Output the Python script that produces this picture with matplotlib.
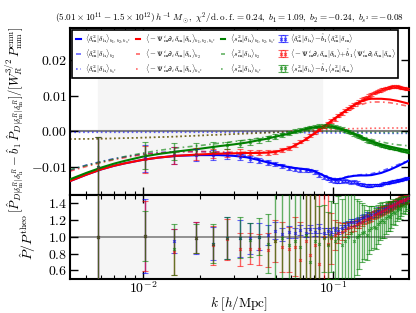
import numpy as np
import matplotlib
matplotlib.use("Agg")
import matplotlib.pyplot as plt
from matplotlib.ticker import FuncFormatter, FixedLocator

plt.rcParams["font.family"] = "serif"
plt.rcParams["font.serif"] = ["cmr10"]
plt.rcParams["mathtext.fontset"] = "cm"
plt.rcParams["axes.formatter.use_mathtext"] = True

# measured k bins [h/Mpc]
k = [0.0058, 0.0102, 0.0146, 0.0190, 0.0234, 0.0278, 0.0322, 0.0366, 0.0410, 0.0454,
     0.0498, 0.0542, 0.0586, 0.0630, 0.0674, 0.0718, 0.0762, 0.0806, 0.0850, 0.0894,
     0.0938, 0.0982, 0.1026, 0.1070, 0.1114, 0.1158, 0.1202, 0.1246, 0.1290, 0.1334,
     0.1378, 0.1422, 0.1466, 0.1510, 0.1554, 0.1598, 0.1642, 0.1686, 0.1730, 0.1774,
     0.1818, 0.1862, 0.1906, 0.1950, 0.1994, 0.2038, 0.2082, 0.2126, 0.2170, 0.2214,
     0.2258, 0.2302, 0.2346, 0.2390, 0.2434, 0.2478]

# top panel measurements
d2_meas = [-0.0101, -0.0076, -0.0067, -0.0066, -0.0067, -0.0068, -0.0072, -0.0077, -0.0083, -0.0088,
           -0.0092, -0.0097, -0.0104, -0.0107, -0.0108, -0.0109, -0.0110, -0.0114, -0.0122, -0.0128,
           -0.0133, -0.0137, -0.0141, -0.0142, -0.0140, -0.0139, -0.0141, -0.0143, -0.0142, -0.0145,
           -0.0148, -0.0150, -0.0151, -0.0153, -0.0152, -0.0153, -0.0151, -0.0150, -0.0152, -0.0150,
           -0.0147, -0.0146, -0.0145, -0.0146, -0.0143, -0.0142, -0.0141, -0.0140, -0.0139, -0.0138,
           -0.0136, -0.0136, -0.0134, -0.0133, -0.0132, -0.0131]
shift_meas = [-0.0102, -0.0079, -0.0068, -0.0064, -0.0062, -0.0062, -0.0060, -0.0060, -0.0060, -0.0060,
              -0.0059, -0.0053, -0.0047, -0.0038, -0.0029, -0.0021, -0.0012, -0.0004, 0.0005, 0.0013,
              0.0020, 0.0028, 0.0035, 0.0043, 0.0050, 0.0057, 0.0063, 0.0069, 0.0074, 0.0079,
              0.0083, 0.0088, 0.0092, 0.0096, 0.0099, 0.0103, 0.0106, 0.0109, 0.0112, 0.0114,
              0.0117, 0.0119, 0.0121, 0.0122, 0.0124, 0.0125, 0.0126, 0.0125, 0.0126, 0.0124,
              0.0123, 0.0122, 0.0121, 0.0120, 0.0119, 0.0118]
s2_meas = [-0.0100, -0.0068, -0.0057, -0.0050, -0.0044, -0.0040, -0.0035, -0.0030, -0.0025, -0.0020,
           -0.0015, -0.0010, -0.0005, 0.0000, 0.0004, 0.0008, 0.0011, 0.0013, 0.0014, 0.0015,
           0.0016, 0.0015, 0.0013, 0.0010, 0.0007, 0.0003, -0.0001, -0.0005, -0.0009, -0.0012,
           -0.0016, -0.0019, -0.0022, -0.0025, -0.0028, -0.0030, -0.0033, -0.0035, -0.0037, -0.0039,
           -0.0041, -0.0042, -0.0044, -0.0045, -0.0046, -0.0047, -0.0048, -0.0049, -0.0050, -0.0051,
           -0.0052, -0.0053, -0.0054, -0.0055, -0.0056, -0.0057]
err_top = [0.0085, 0.0037, 0.0024, 0.0017, 0.0013, 0.0011, 0.0009, 0.0008, 0.0007, 0.0007,
           0.0006, 0.0006, 0.0006, 0.0005, 0.0005, 0.0005, 0.0005, 0.0005, 0.0005, 0.0005,
           0.0005, 0.0005, 0.0005, 0.0004, 0.0004, 0.0004, 0.0004, 0.0004, 0.0004, 0.0004,
           0.0004, 0.0004, 0.0004, 0.0004, 0.0004, 0.0004, 0.0003, 0.0003, 0.0003, 0.0003,
           0.0003, 0.0003, 0.0003, 0.0003, 0.0003, 0.0003, 0.0003, 0.0003, 0.0003, 0.0003,
           0.0003, 0.0003, 0.0003, 0.0003, 0.0003, 0.0003]

# theory curves
kt = [0.0041, 0.005, 0.006, 0.007, 0.008, 0.01, 0.012, 0.015, 0.02, 0.025, 0.03, 0.035,
      0.04, 0.045, 0.05, 0.06, 0.07, 0.08, 0.09, 0.1, 0.11, 0.12, 0.13, 0.14, 0.15, 0.16,
      0.18, 0.2, 0.22, 0.24, 0.252]
d2_all = [-0.0140, -0.0122, -0.0107, -0.0097, -0.0090, -0.0080, -0.0074, -0.0069, -0.0067, -0.0067,
          -0.0069, -0.0073, -0.0080, -0.0087, -0.0093, -0.0102, -0.0106, -0.0112, -0.0125, -0.0135,
          -0.0134, -0.0128, -0.0125, -0.0124, -0.0124, -0.0123, -0.0117, -0.0108, -0.0098, -0.0088, -0.0082]
shift_all = [-0.0140, -0.0122, -0.0107, -0.0097, -0.0090, -0.0080, -0.0074, -0.0069, -0.0065, -0.0063,
             -0.0062, -0.0061, -0.0061, -0.0060, -0.0058, -0.0046, -0.0027, -0.0006, 0.0014, 0.0032,
             0.0048, 0.0062, 0.0074, 0.0083, 0.0089, 0.0091, 0.0091, 0.0089, 0.0085, 0.0080, 0.0077]
s2_all = [-0.0135, -0.0117, -0.0102, -0.0091, -0.0083, -0.0071, -0.0064, -0.0057, -0.0049, -0.0042,
          -0.0037, -0.0032, -0.0026, -0.0021, -0.0015, -0.0006, 0.0005, 0.0011, 0.0014, 0.0013,
          0.0007, 0.0000, -0.0008, -0.0015, -0.0022, -0.0028, -0.0037, -0.0043, -0.0048, -0.0052, -0.0054]
d2_b2 = [-0.0110, -0.0095, -0.0085, -0.0077, -0.0072, -0.0064, -0.0060, -0.0057, -0.0057, -0.0059,
         -0.0063, -0.0068, -0.0076, -0.0084, -0.0091, -0.0101, -0.0106, -0.0112, -0.0124, -0.0133,
         -0.0132, -0.0127, -0.0124, -0.0122, -0.0121, -0.0119, -0.0112, -0.0103, -0.0094, -0.0086, -0.0082]
shift_b2 = [-0.0112, -0.0099, -0.0088, -0.0080, -0.0074, -0.0065, -0.0061, -0.0058, -0.0057, -0.0058,
            -0.0059, -0.0059, -0.0059, -0.0059, -0.0057, -0.0046, -0.0028, -0.0008, 0.0011, 0.0028,
            0.0043, 0.0056, 0.0066, 0.0074, 0.0079, 0.0082, 0.0082, 0.0080, 0.0076, 0.0072, 0.0070]
s2_b2 = [-0.0108, -0.0096, -0.0086, -0.0078, -0.0071, -0.0061, -0.0054, -0.0047, -0.0040, -0.0034,
         -0.0029, -0.0025, -0.0020, -0.0016, -0.0011, -0.0003, 0.0006, 0.0011, 0.0013, 0.0012,
         0.0007, 0.0001, -0.0006, -0.0012, -0.0018, -0.0023, -0.0030, -0.0035, -0.0038, -0.0040, -0.0041]
kt_s = [0.0041, 0.006, 0.01, 0.015, 0.02, 0.03, 0.05, 0.07, 0.1, 0.15, 0.2, 0.252]
d2_bs2 = [-0.0003, -0.0003, -0.0003, -0.0003, -0.0003, -0.0003, -0.0003, -0.0004, -0.0005, -0.0005, -0.0006, -0.0006]
shift_bs2 = [-0.0022, -0.0021, -0.0018, -0.0015, -0.0012, -0.0008, -0.0003, 0.0002, 0.0006, 0.0008, 0.0009, 0.0009]
s2_bs2 = [-0.0022, -0.0021, -0.0018, -0.0015, -0.0012, -0.0008, -0.0003, 0.0000, -0.0001, -0.0003, -0.0004, -0.0004]

# bottom panel: ratio to theory
d2_ratio = [1.00, 1.01, 0.95, 0.99, 0.92, 0.99, 0.98, 0.98, 1.00, 1.02,
            1.07, 1.03, 1.06, 1.04, 1.08, 1.05, 1.09, 1.06, 1.10, 1.05,
            1.07, 1.06, 1.08, 1.07, 1.10, 1.13, 1.15, 1.17, 1.17, 1.18,
            1.20, 1.22, 1.23, 1.25, 1.24, 1.26, 1.27, 1.28, 1.31, 1.30,
            1.31, 1.33, 1.34, 1.35, 1.36, 1.37, 1.38, 1.39, 1.40, 1.41,
            1.42, 1.43, 1.44, 1.44, 1.45, 1.46]
d2_rerr = [0.80, 0.44, 0.14, 0.19, 0.20, 0.25, 0.22, 0.18, 0.16, 0.12,
           0.10, 0.08, 0.07, 0.06, 0.06, 0.05, 0.05, 0.05, 0.05, 0.05,
           0.04, 0.04, 0.04, 0.04, 0.04, 0.04, 0.04, 0.04, 0.04, 0.04,
           0.04, 0.04, 0.04, 0.04, 0.04, 0.04, 0.04, 0.04, 0.04, 0.04,
           0.04, 0.04, 0.04, 0.04, 0.04, 0.04, 0.04, 0.04, 0.04, 0.04,
           0.04, 0.04, 0.04, 0.04, 0.04, 0.04]
shift_ratio = [1.00, 1.01, 0.82, 0.99, 0.90, 0.97, 0.85, 0.86, 0.85, 0.84,
               0.95, 0.88, 0.85, 0.88, 0.72, 0.95, 0.78, 0.90, 0.68, 1.00,
               0.92, 0.98, 1.02, 1.05, 1.06, 1.08, 1.10, 1.12, 1.13, 1.15,
               1.16, 1.18, 1.20, 1.21, 1.22, 1.24, 1.26, 1.27, 1.28, 1.30,
               1.31, 1.32, 1.33, 1.35, 1.36, 1.37, 1.38, 1.39, 1.40, 1.41,
               1.42, 1.43, 1.44, 1.44, 1.45, 1.46]
shift_rerr = [0.80, 0.42, 0.27, 0.18, 0.23, 0.24, 0.20, 0.18, 0.18, 0.20,
              0.25, 0.30, 0.27, 0.35, 0.45, 0.60, 0.80, 1.00, 1.20, 1.00,
              0.60, 0.30, 0.18, 0.12, 0.10, 0.08, 0.07, 0.06, 0.06, 0.05,
              0.05, 0.05, 0.05, 0.05, 0.05, 0.05, 0.05, 0.05, 0.05, 0.05,
              0.05, 0.05, 0.05, 0.05, 0.05, 0.05, 0.05, 0.05, 0.05, 0.05,
              0.05, 0.05, 0.05, 0.05, 0.05, 0.05]
s2_ratio = [1.00, 1.01, 0.85, 0.98, 0.92, 0.99, 0.99, 0.96, 1.00, 0.92,
            0.95, 0.98, 0.90, 0.95, 0.88, 1.02, 0.70, 0.95, 0.92, 0.98,
            0.90, 1.00, 0.95, 0.98, 0.90, 0.95, 1.00, 1.05, 0.95, 1.00,
            1.02, 1.05, 1.06, 1.02, 1.08, 1.10, 1.12, 1.10, 1.15, 1.18,
            1.20, 1.18, 1.22, 1.25, 1.24, 1.27, 1.30, 1.28, 1.32, 1.34,
            1.33, 1.36, 1.38, 1.37, 1.40, 1.42]
s2_rerr = [1.00, 0.30, 0.30, 0.17, 0.23, 0.25, 0.24, 0.20, 0.22, 0.35,
           0.70, 1.00, 1.20, 1.50, 2.00, 2.00, 1.00, 0.60, 0.45, 0.40,
           0.40, 0.42, 0.45, 0.50, 0.55, 0.60, 0.70, 0.80, 0.60, 0.45,
           0.40, 0.35, 0.32, 0.30, 0.28, 0.26, 0.25, 0.24, 0.23, 0.22,
           0.21, 0.20, 0.19, 0.18, 0.17, 0.16, 0.15, 0.14, 0.13, 0.12,
           0.12, 0.11, 0.10, 0.10, 0.09, 0.09]

kmin_fit, kmax_fit = 0.0058, 0.088

fig = plt.figure(figsize=(4.16, 3.13), dpi=100)
ax1 = fig.add_axes([0.168, 0.378, 0.815, 0.532])
ax2 = fig.add_axes([0.168, 0.109, 0.815, 0.269], sharex=ax1)

cols = ["b", "r", "g"]
dashdot = (0, (3, 2, 1, 2))

for ax in (ax1, ax2):
    ax.axvspan(kmin_fit, kmax_fit, color="0.96", zorder=0)
ax1.axhline(0, color="0.5", lw=1.5, zorder=1)
ax2.axhline(1, color="0.5", lw=1.2, zorder=1)

theory = [(d2_all, d2_b2, d2_bs2), (shift_all, shift_b2, shift_bs2), (s2_all, s2_b2, s2_bs2)]
handles = []
for c, (full, b2, bs2) in zip(cols, theory):
    l1, = ax1.plot(kt, full, color=c, lw=1.5, zorder=3)
    l2, = ax1.plot(kt, b2, color=c, lw=1.2, ls=dashdot, alpha=0.6, zorder=2)
    l3, = ax1.plot(kt_s, bs2, color=c, lw=1.2, ls=":", alpha=0.6, zorder=2)
    handles += [l1, l2, l3]

meas = [(d2_meas, d2_ratio, d2_rerr), (shift_meas, shift_ratio, shift_rerr), (s2_meas, s2_ratio, s2_rerr)]
eb_handles = []
for c, (y, r, re) in zip(cols, meas):
    eb = ax1.errorbar(k, y, yerr=err_top, fmt="x", color=c, ms=2, mew=0.8, lw=1,
                      capsize=2, alpha=0.6, zorder=4)
    ax2.errorbar(k, r, yerr=re, fmt="x", color=c, ms=2, mew=0.8, lw=1,
                 capsize=2, alpha=0.6, zorder=4)
    eb_handles.append(eb)

labels = [
    r"$\langle\delta_{\rm m}^2|\delta_{\rm h}\rangle_{b_1,b_2,b_{s^2}}$",
    r"$\langle\delta_{\rm m}^2|\delta_{\rm h}\rangle_{b_2}$",
    r"$\langle\delta_{\rm m}^2|\delta_{\rm h}\rangle_{b_{s^2}}$",
    r"$\langle-\Psi_{\rm m}^i\partial_i\delta_{\rm m}|\delta_{\rm h}\rangle_{b_1,b_2,b_{s^2}}$",
    r"$\langle-\Psi_{\rm m}^i\partial_i\delta_{\rm m}|\delta_{\rm h}\rangle_{b_2}$",
    r"$\langle-\Psi_{\rm m}^i\partial_i\delta_{\rm m}|\delta_{\rm h}\rangle_{b_{s^2}}$",
    r"$\langle s_{\rm m}^2|\delta_{\rm h}\rangle_{b_1,b_2,b_{s^2}}$",
    r"$\langle s_{\rm m}^2|\delta_{\rm h}\rangle_{b_2}$",
    r"$\langle s_{\rm m}^2|\delta_{\rm h}\rangle_{b_{s^2}}$",
    r"$\langle\delta_{\rm m}^2|\delta_{\rm h}\rangle\!-\!\hat{b}_1\langle\delta_{\rm m}^2|\delta_{\rm m}\rangle$",
    r"$\langle-\Psi_{\rm m}^i\partial_i\delta_{\rm m}|\delta_{\rm h}\rangle\!+\!\hat{b}_1\langle\Psi_{\rm m}^i\partial_i\delta_{\rm m}|\delta_{\rm m}\rangle$",
    r"$\langle s_{\rm m}^2|\delta_{\rm h}\rangle\!-\!\hat{b}_1\langle s_{\rm m}^2|\delta_{\rm m}\rangle$",
]
leg = ax1.legend(handles + eb_handles, labels, ncol=4, loc="upper left", fontsize=5.4,
                 numpoints=2, handlelength=1.2, handletextpad=0.3, columnspacing=0.4,
                 labelspacing=0.25, borderpad=0.3, borderaxespad=0.25, fancybox=False,
                 framealpha=1, edgecolor="k")
leg.get_frame().set_linewidth(1.2)
leg.set_zorder(10)

ax1.set_xscale("log")
ax1.set_xlim(0.0041, 0.252)
ax1.set_ylim(-0.0178, 0.0289)
ax2.set_ylim(0.5, 1.5)
ax1.yaxis.set_major_locator(FixedLocator([-0.01, 0.0, 0.01, 0.02]))
ax1.yaxis.set_major_formatter(FuncFormatter(lambda v, p: r"$%.2f$" % v))
ax2.yaxis.set_major_locator(FixedLocator([0.6, 0.8, 1.0, 1.2, 1.4]))
ax2.yaxis.set_major_formatter(FuncFormatter(lambda v, p: r"$%.1f$" % v))
plt.setp(ax1.get_xticklabels(), visible=False)

for ax in (ax1, ax2):
    ax.tick_params(which="both", direction="in", top=True, right=True, labelsize=10, pad=2)
    ax.tick_params(which="major", length=6, width=1)
    ax.tick_params(which="minor", length=3, width=0.8)
    for s in ax.spines.values():
        s.set_linewidth(1.5)
ax2.tick_params(axis="x", pad=1)

ax1.set_title(r"$(5.01\times10^{11}-1.5\times10^{12})\,h^{-1}\,M_\odot,\ \chi^2/{\rm d.o.f.}=0.24,\ b_1=1.09,\ b_2=-0.24,\ b_{s^2}=-0.08$",
              fontsize=6.6, pad=5, x=0.47)
ax1.set_ylabel(r"$[\hat{P}_{D|\delta_{\rm m}^R|\delta_{\rm h}^R}-\hat{b}_1\,\hat{P}_{D|\delta_{\rm m}^R|\delta_{\rm m}^R}]/[W_R^{3/2}\,P_{\rm mm}^{\rm emu}]$",
               fontsize=9)
ax1.yaxis.set_label_coords(-0.13, 0.45)
ax2.set_ylabel(r"$\hat{P}/P^{\rm theo}$", fontsize=10)
ax2.yaxis.set_label_coords(-0.095, 0.5)
ax2.set_xlabel(r"$k\ [h/{\rm Mpc}]$", fontsize=9.5, labelpad=-1)

fig.savefig("out.png", dpi=100)
